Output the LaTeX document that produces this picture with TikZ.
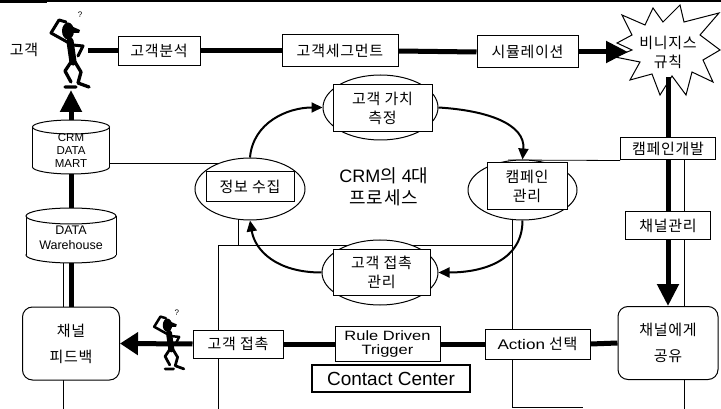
\documentclass[tikz,border=0pt]{standalone}
\usepackage{fontspec}
\setmainfont{Noto Sans CJK KR}[LetterSpace=5]
\newfontfamily\lat{Liberation Sans}
\newfontfamily\latw{Liberation Sans}[FakeStretch=1.22]
\usetikzlibrary{arrows.meta,shapes.geometric,backgrounds}

\newcommand\kfont{\fontsize{15}{19}\selectfont}

% cylinder: centre x, centre y, width, height, cap radius
\newcommand\drawcyl[5]{%
  \pgfmathsetmacro\cxl{#1-#3/2}\pgfmathsetmacro\cxr{#1+#3/2}%
  \pgfmathsetmacro\cyt{#2-#4/2+#5}\pgfmathsetmacro\cyb{#2+#4/2-#5}%
  \pgfmathsetmacro\crx{#3/2}%
  \filldraw[fill=white,line width=1pt] (#1,\cyb) ellipse [x radius=\crx, y radius=#5];
  \fill[white] (\cxl,\cyt) rectangle (\cxr,\cyb);
  \draw[line width=1pt] (\cxl,\cyt) -- (\cxl,\cyb) (\cxr,\cyt) -- (\cxr,\cyb);
  \filldraw[fill=white,line width=1pt] (#1,\cyt) ellipse [x radius=\crx, y radius=#5];
}

% little man scratching his head: name, neck position, scale, stroke width
\newcommand\drawguy[4]{%
  \begin{scope}[shift={#2}, scale=#3, line cap=round, line join=round]
    \fill (-2,-10) ellipse [x radius=6, y radius=8.5];
    \fill (1,-15) -- (10,-11) -- (9,-8) -- (2,-8) -- cycle;
    \draw[line width=#4] (-1,2) -- (-19,-8) -- (-11,-21) -- (-4,-19);
    \draw[line width=2.4*#4] (0,0) -- (3,21);
    \draw[line width=#4] (3,4) -- (13,5) -- (8,15);
    \draw[line width=1.1*#4] (1,21) -- (-5,30) -- (1,41) (-5,46) -- (6,46);
    \draw[line width=1.1*#4] (5,21) -- (11,31) -- (8,42) -- (19,46);
    \node[font=\lat\fontsize{8}{8}\selectfont, inner sep=0pt] (#1q) at (10,-26) {?};
  \end{scope}}

\tikzset{
  lbl/.style={draw, line width=1pt, fill=white, inner sep=0pt, align=center, font=\kfont},
  rbox/.style={lbl, rounded corners=10pt},
  oval/.style={ellipse, draw, line width=1pt, fill=white, inner sep=0pt},
  thk/.style={line width=5pt},
  thn/.style={line width=0.8pt},
  cyc/.style={line width=2pt, -{Triangle[length=11pt,width=10pt]}},
  bigarrow/.style={thk, -{Triangle[length=22pt,width=21pt]}},
}

\begin{document}
\begin{tikzpicture}[x=1pt,y=-1pt]
\useasboundingbox (0,0) rectangle (721,409);

% top row
\node[font=\kfont] (custlbl) at (24,50) {고객};
\node[lbl, minimum width=82pt, minimum height=29pt] (ga) at (159,51) {고객분석};
\node[lbl, minimum width=116pt, minimum height=32pt] (seg) at (340,51) {고객세그먼트};
\node[lbl, minimum width=101pt, minimum height=32pt] (sim) at (527.5,52) {시뮬레이션};
\node[inner sep=0pt, minimum width=100pt, minimum height=50pt, align=center, font=\kfont] (biz) at (668,52) {비니지스\\규칙};
\coordinate (biztip) at (628,52);
\coordinate (guyhand) at (88,51);
\coordinate (guyfeet) at (71,90);

% right column
\node[lbl, minimum width=95pt, minimum height=22pt] (dev) at (668,149) {캠페인개발};
\node[lbl, minimum width=85pt, minimum height=28pt] (ch) at (668,226) {채널관리};
\node[rbox, minimum width=100pt, minimum height=73pt, font=\fontsize{15}{26}\selectfont] (share) at (668,343) {채널에게\\공유};

% bottom row
\node[lbl, minimum width=105pt, minimum height=30pt] (act) at (537.5,344) {{\latw\fontsize{14}{15}\selectfont Action} 선택};
\node[lbl, minimum width=105pt, minimum height=35pt, font=\latw\fontsize{13.5}{13.5}\selectfont] (rule) at (387.5,344) {Rule Driven\\Trigger};
\node[lbl, line width=1.6pt, minimum width=158pt, minimum height=27pt, font=\lat\fontsize{19}{20}\selectfont] (cc) at (391,378.5) {Contact Center};
\node[lbl, minimum width=90pt, minimum height=28pt] (touch) at (238,344) {고객 접촉};
\node[rbox, minimum width=97pt, minimum height=73pt, font=\fontsize{15}{26}\selectfont] (fb) at (71,343.5) {채널\\피드백};

% left column (cylinders are drawn on the background layer)
\node[inner sep=0pt, minimum width=90pt, minimum height=55pt] (dw) at (71,235.5) {};
\node[align=center, font=\lat\fontsize{12.5}{15}\selectfont] (dwtext) at (71,238) {DATA\\Warehouse};
\node[inner sep=0pt, minimum width=77pt, minimum height=54pt] (dm) at (71,147) {};
\node[align=center, font=\lat\fontsize{11.5}{13}\selectfont] (dmtext) at (71,150) {CRM\\DATA\\MART};

% the four-step cycle
\node[oval, minimum width=115pt, minimum height=65pt] (val) at (380.5,107.5) {};
\node[lbl, minimum width=99pt, minimum height=47pt] (valbox) at (382.5,108.5) {고객 가치\\측정};
\node[oval, minimum width=109pt, minimum height=60pt] (camp) at (522.5,190) {};
\node[lbl, minimum width=80pt, minimum height=47pt] (campbox) at (527,186.5) {캠페인\\관리};
\node[oval, minimum width=110pt, minimum height=62pt] (info) at (250,189) {};
\node[lbl, minimum width=88pt, minimum height=30pt] (infobox) at (250,187) {정보 수집};
\node[oval, minimum width=116pt, minimum height=65pt] (cont) at (380,272.5) {};
\node[lbl, minimum width=97pt, minimum height=45pt] (contbox) at (381.5,272.5) {고객 접촉\\관리};
\node[align=center, font=\fontsize{18}{22}\selectfont] (title) at (384,187) {{\lat CRM}의 {\lat 4}대\\프로세스};

\draw[cyc] (info.north) .. controls +(3,-35) and +(-35,0) .. (val.west);
\draw[cyc] (val.east) .. controls +(50,3) and +(3,-35) .. (camp.north);
\draw[cyc] (camp.south) .. controls +(0,40) and +(45,0) .. (cont.east);
\draw[cyc] (cont.west) .. controls +(-45,0) and +(5,30) .. (info.south);

% main flow
\draw[thk] (guyhand) -- (ga.west);
\draw[thk] (ga.east) -- (seg.west);
\draw[thk] (seg.east) -- (sim.west);
\draw[bigarrow] (sim.east) -- (biztip);
\draw[thk] (biz.south) -- (dev.north);
\draw[thk] (dev.south) -- (ch.north);
\draw[bigarrow] (ch.south) -- (share.north);
\draw[thk] (share.west) -- (act.east);
\draw[thk] (act.west) -- (rule.east);
\draw[thk] (rule.west) -- (touch.east);
\draw[thk, -{Triangle[length=18pt,width=22pt]}] (touch.west) -- (fb.east);
\draw[thk] (fb.north) -- (dw.south);
\draw[thk] (dw.north) -- (dm.south);
\draw[bigarrow] (dm.north) -- (guyfeet);

\drawguy{bigguy}{(70,41)}{1}{3pt}
\drawguy{smallguy}{(169,333)}{0.78}{2.5pt}

\begin{scope}[on background layer]
  % frame lines
  \draw[line width=1.5pt] (0,1) -- (721,1);
  \draw[line width=3pt] (0,1.5) -- (47,1.5);
  \draw[thn] (100,163) -- (225,163);
  \draw[thn] (508,160) -- (dev.south west);
  \draw[thn] (684,160) -- (684,409);
  \draw[thn] (512,205) -- (512,407) -- (583,407);
  \draw[thn] (238,200) -- (238,245);
  \draw[thn] (218,409) -- (218,245) -- (512,245);
  \draw[thn] (63,255) -- (63,409);
  % databases
  \drawcyl{71}{147}{77}{54}{7}
  \drawcyl{71}{235.5}{90}{55}{8}
  % burst behind the business-rule label
  \filldraw[fill=white, line width=1pt, line join=miter]
    (617,43) -- (632,35) -- (622,15) -- (645,25) -- (653,8) -- (663,22)
    -- (680,5) -- (684,22) -- (719,13) -- (700,35) -- (720,50) -- (703,60)
    -- (713,82) -- (692,72) -- (686,95) -- (672,76) -- (660,95) -- (652,74)
    -- (630,80) -- (640,62) -- (615,57) -- (632,50) -- cycle;
\end{scope}
\end{tikzpicture}
\end{document}
